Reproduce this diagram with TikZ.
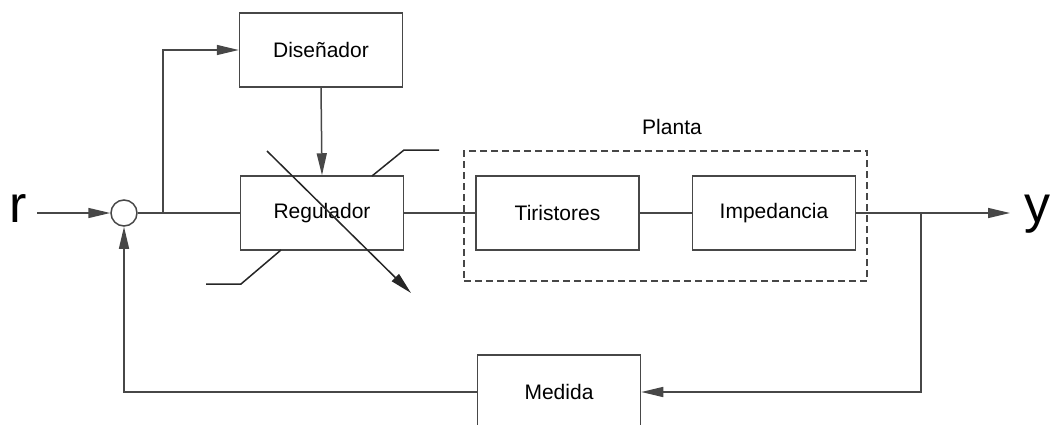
\documentclass[tikz,border=0pt]{standalone}
\usepackage{fontspec}
\setmainfont{Liberation Sans}
\usetikzlibrary{arrows.meta}
\tikzset{>={Triangle[width=10pt,length=22pt]}}
\tikzset{
  blk/.style={draw, minimum width=163pt, minimum height=74pt, inner sep=0pt,
    font=\fontsize{21}{25}\selectfont},
  sig/.style={inner sep=0pt, font=\fontsize{52}{60}\selectfont},
}

\begin{document}
\begin{tikzpicture}[x=1pt, y=-1pt, line width=1.5pt, draw=black!72]
  \useasboundingbox (0,0) rectangle (1051,425);

  % blocks
  \node[blk] (dis) at (321,50) {Diseñador};
  \node[blk] (reg) at (322,213) {Regulador};
  \node[blk] (tir) at (557.5,213) {Tiristores};
  \node[blk] (imp) at (774,213) {Impedancia};
  \node[blk] (med) at (559,392) {Medida};
  \node[draw, circle, minimum size=26pt, inner sep=0pt] (sum) at (124,213) {};

  % plant frame
  \node[draw, dashed, dash pattern=on 7pt off 4pt, line width=1.2pt,
        minimum width=403pt, minimum height=130pt] (planta) at (665.5,216) {};
  \node[font=\fontsize{21}{25}\selectfont] (plantalbl) at (672,127) {Planta};

  % signals
  \node[sig] (r) at (18.5,208.5) {r};
  \node[sig] (y) at (1037,214) {y};
  \coordinate (rin) at (37,213);
  \coordinate (yout) at (1010,213);
  \coordinate (b1) at (163,213);
  \coordinate (b2) at (921,213);

  \draw[->] (rin) -- (sum.west);
  \draw (sum.east) -- (reg.west);
  \draw[->] (b1) |- (dis.west);
  \draw[->] (dis.south) -- (reg.north);
  \draw (reg.east) -- (tir.west);
  \draw (tir.east) -- (imp.west);
  \draw[->] (imp.east) -- (yout);
  \draw[->] (b2) |- (med.east);
  \draw[->] (med.west) -| (sum.south);

  % adjustable regulator
  \coordinate (adjA) at (267,151);
  \coordinate (adjB) at (411,293);
  \draw[->, black!85] (adjA) -- (adjB);
  \draw[black!85] (372,176) -- (404,150) -- (439,150);
  \draw[black!85] (281,250) -- (241,284) -- (206,284);
\end{tikzpicture}
\end{document}
